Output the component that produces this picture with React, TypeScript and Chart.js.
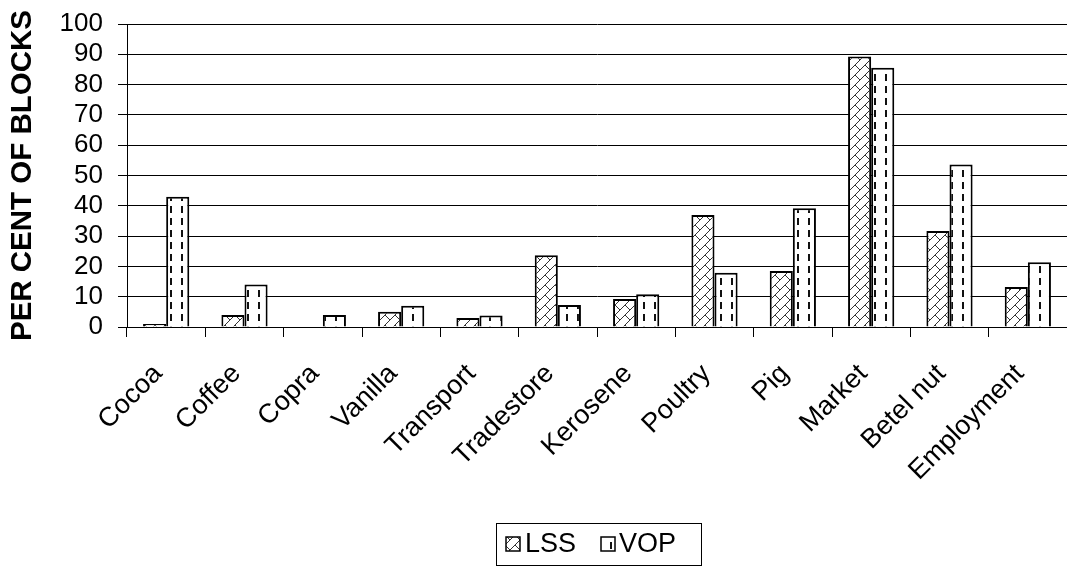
import React, { useEffect, useRef } from "react";
import { Chart, registerables } from "chart.js";

Chart.register(...registerables);

const categories = ["Cocoa", "Coffee", "Copra", "Vanilla", "Transport", "Tradestore", "Kerosene", "Poultry", "Pig", "Market", "Betel nut", "Employment"];
const lssValues = [1, 4, 0, 5, 3, 23.7, 9.2, 37, 18.5, 89.3, 31.7, 13.2];
const vopValues = [43, 14, 4, 7, 3.8, 7.3, 10.8, 17.9, 39.2, 85.6, 53.6, 21.4];
const seriesNames = ["LSS", "VOP"];
const yTicks = [0, 10, 20, 30, 40, 50, 60, 70, 80, 90, 100];

const FONT = "'Liberation Sans', Arial, sans-serif";

function makeBrick(ctx: CanvasRenderingContext2D): CanvasPattern | string {
  const c = document.createElement("canvas");
  c.width = 10;
  c.height = 10;
  const g = c.getContext("2d");
  if (!g) return "#fff";
  g.fillStyle = "#fff";
  g.fillRect(0, 0, 10, 10);
  g.strokeStyle = "#333";
  g.lineWidth = 1;
  g.beginPath();
  g.moveTo(-1, 11);
  g.lineTo(11, -1);
  g.moveTo(5, 5);
  g.lineTo(10, 10);
  g.stroke();
  return ctx.createPattern(c, "repeat") || "#fff";
}

function makeDash(ctx: CanvasRenderingContext2D): CanvasPattern | string {
  const c = document.createElement("canvas");
  c.width = 11;
  c.height = 12;
  const g = c.getContext("2d");
  if (!g) return "#fff";
  g.fillStyle = "#fff";
  g.fillRect(0, 0, 11, 12);
  g.fillStyle = "#111";
  g.fillRect(5, 2, 2, 7);
  return ctx.createPattern(c, "repeat") || "#fff";
}

export default function App() {
  const ref = useRef<HTMLCanvasElement | null>(null);

  useEffect(() => {
    const canvas = ref.current;
    if (!canvas) return;
    const ctx = canvas.getContext("2d");
    if (!ctx) return;
    const brick = makeBrick(ctx);
    const dash = makeDash(ctx);
    const fills = [brick, dash];

    const legendPlugin = {
      id: "boxLegend",
      afterDraw(chart: any) {
        const c = chart.ctx as CanvasRenderingContext2D;
        c.save();
        const bx = 496, by = 523, bw = 205, bh = 42;
        c.strokeStyle = "#000";
        c.lineWidth = 1;
        c.strokeRect(bx + 0.5, by + 0.5, bw, bh);
        c.font = `27px ${FONT}`;
        c.textBaseline = "middle";
        const items = [
          { x: 506, tx: 525 },
          { x: 601, tx: 619 },
        ];
        items.forEach((it, i) => {
          c.fillStyle = fills[i] as any;
          c.fillRect(it.x, 537, 14, 14);
          c.strokeStyle = "#000";
          c.lineWidth = 1.5;
          c.strokeRect(it.x, 537, 14, 14);
          c.fillStyle = "#000";
          c.fillText(seriesNames[i], it.tx, 545);
        });
        c.restore();
      },
    };

    const chart = new Chart(canvas, {
      type: "bar",
      data: {
        labels: categories,
        datasets: [
          {
            label: seriesNames[0],
            data: lssValues,
            backgroundColor: brick as any,
            borderColor: "#000",
            borderWidth: 2,
            categoryPercentage: 0.59,
            barPercentage: 1,
          },
          {
            label: seriesNames[1],
            data: vopValues,
            backgroundColor: dash as any,
            borderColor: "#000",
            borderWidth: 2,
            categoryPercentage: 0.59,
            barPercentage: 1,
          },
        ],
      },
      options: {
        animation: false,
        responsive: false,
        maintainAspectRatio: false,
        layout: { padding: { top: 24, left: 0, right: 0, bottom: 0 } },
        plugins: {
          legend: { display: false },
          tooltip: { enabled: false },
        },
        scales: {
          x: {
            grid: {
              offset: true,
              drawOnChartArea: false,
              drawTicks: true,
              tickLength: 10,
              color: "#000",
              lineWidth: 1,
            },
            border: { color: "#000", width: 1 },
            ticks: {
              autoSkip: false,
              maxRotation: 45,
              minRotation: 45,
              color: "#000",
              font: { family: FONT, size: 27 },
              padding: 21,
              labelOffset: -8,
            },
            afterFit: (s: any) => {
              s.height = 240;
              s.paddingTop = 0;
              s.paddingBottom = 0;
              s.paddingLeft = 0;
              s.paddingRight = 0;
            },
          },
          y: {
            min: 0,
            max: 100,
            afterBuildTicks: (s: any) => {
              s.ticks = yTicks.map((v) => ({ value: v }));
            },
            grid: {
              color: "#000",
              lineWidth: 1,
              tickLength: 9,
            },
            border: { color: "#000", width: 1 },
            ticks: {
              autoSkip: false,
              stepSize: 10,
              color: "#000",
              font: { family: FONT, size: 26 },
              padding: 15,
            },
            title: {
              display: true,
              text: "PER CENT OF BLOCKS",
              color: "#000",
              font: { family: FONT, size: 29.5, weight: "bold" },
              padding: { top: 5, bottom: 0 },
            },
            afterFit: (s: any) => {
              s.width = 127;
              s.paddingTop = 0;
              s.paddingBottom = 0;
            },
          },
        },
      },
      plugins: [legendPlugin],
    });

    return () => chart.destroy();
  }, []);

  return (
    <div style={{ position: "fixed", left: 0, top: 0, width: 1067, height: 567, background: "#fff" }}>
      <canvas ref={ref} width={1067} height={567} style={{ display: "block", width: 1067, height: 567 }} />
    </div>
  );
}
